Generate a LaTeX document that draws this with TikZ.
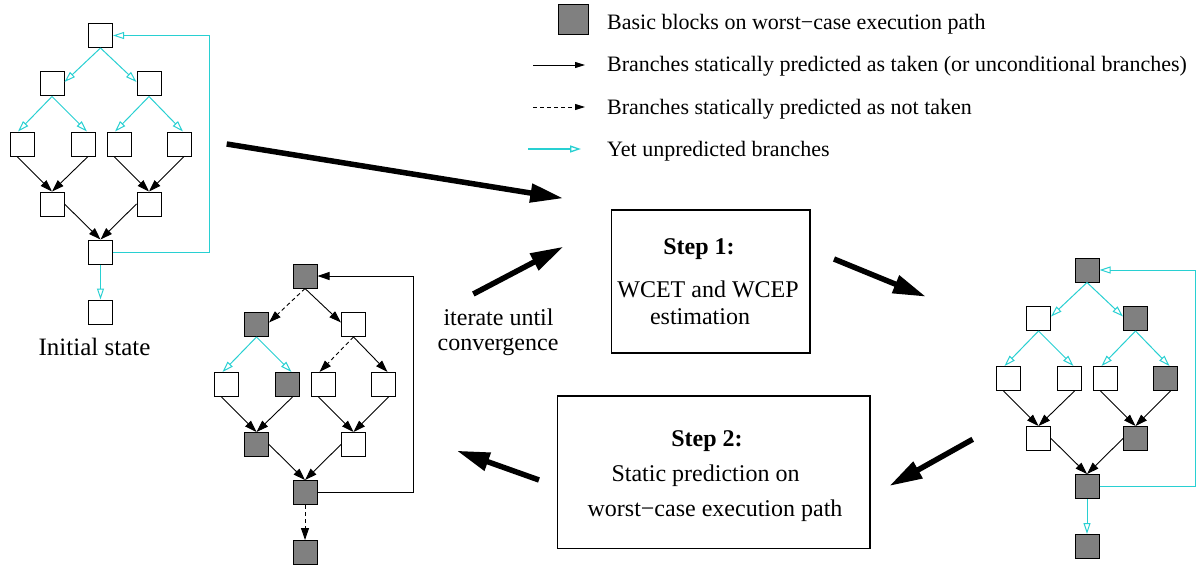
\documentclass[tikz,border=0pt]{standalone}
\usepackage{fontspec}
\setmainfont{Liberation Serif}
\usetikzlibrary{arrows.meta}
\definecolor{wcyan}{RGB}{40,208,210}
\definecolor{wgray}{RGB}{128,128,128}
\tikzset{
  bb/.style={draw=black, line width=1pt, minimum width=24pt, minimum height=24pt, inner sep=0pt, fill=white},
  onpath/.style={fill=wgray},
  cy/.style={draw=wcyan, line width=1pt, -{Triangle[open, length=11pt, width=7pt]}},
  tk/.style={draw=black, line width=0.9pt, -{Triangle[length=12pt, width=8pt]}},
  nt/.style={tk, dash pattern=on 4pt off 3pt},
  big/.style={draw=black, line width=5.5pt, -{Triangle[length=33pt, width=18pt]}},
  boxtxt/.style={font=\fontsize{24}{28}\selectfont, anchor=base, inner sep=0pt},
  legtxt/.style={font=\fontsize{22}{26}\selectfont, anchor=base west, inner sep=0pt},
  stepbox/.style={draw=black, line width=1.2pt, inner sep=0pt},
  n1/.style={}, n2L/.style={}, n2R/.style={}, n3a/.style={}, n3b/.style={},
  n3c/.style={}, n3d/.style={}, n4L/.style={}, n4R/.style={}, n5/.style={}, n6/.style={},
  e1L/.style={cy}, e1R/.style={cy}, e2La/.style={cy}, e2Lb/.style={cy},
  e2Ra/.style={cy}, e2Rb/.style={cy}, e3/.style={tk}, e4/.style={tk},
  e5/.style={cy}, efb/.style={cy}
}
\newcommand\cfggraph[1]{%
  \node[bb,n1] (#1-1) at (100.5,35.5) {};
  \node[bb,n2L] (#1-2L) at (52,84) {};
  \node[bb,n2R] (#1-2R) at (149,84) {};
  \node[bb,n3a] (#1-3a) at (22,144) {};
  \node[bb,n3b] (#1-3b) at (83,144) {};
  \node[bb,n3c] (#1-3c) at (119,144) {};
  \node[bb,n3d] (#1-3d) at (179,144) {};
  \node[bb,n4L] (#1-4L) at (52,204) {};
  \node[bb,n4R] (#1-4R) at (149,204) {};
  \node[bb,n5] (#1-5) at (100.5,252) {};
  \node[bb,n6] (#1-6) at (100.5,312) {};
  \coordinate (#1-fb) at (209,35.5);
  \draw[e1L] (#1-1.south) -- ([yshift=2pt]#1-2L.east);
  \draw[e1R] (#1-1.south) -- ([yshift=2pt]#1-2R.west);
  \draw[e2La] (#1-2L.south) -- ([xshift=-4pt]#1-3a.north);
  \draw[e2Lb] (#1-2L.south) -- ([xshift=4pt]#1-3b.north);
  \draw[e2Ra] (#1-2R.south) -- ([xshift=-4pt]#1-3c.north);
  \draw[e2Rb] (#1-2R.south) -- ([xshift=4pt]#1-3d.north);
  \draw[e3] ([xshift=-5pt]#1-3a.south) -- (#1-4L.north);
  \draw[e3] ([xshift=5pt]#1-3b.south) -- (#1-4L.north);
  \draw[e3] ([xshift=-5pt]#1-3c.south) -- (#1-4R.north);
  \draw[e3] ([xshift=5pt]#1-3d.south) -- (#1-4R.north);
  \draw[e4] (#1-4L.east) -- (#1-5.north);
  \draw[e4] (#1-4R.west) -- (#1-5.north);
  \draw[e5] (#1-5.south) -- (#1-6.north);
  \draw[efb] (#1-5.east) -| (#1-fb) -- (#1-1.east);
}
\begin{document}
\begin{tikzpicture}[x=1pt,y=-1pt]
\fill[white] (0,0) rectangle (1198,567);
\useasboundingbox (0,0) rectangle (1198,567);

% initial graph
\begin{scope}
  \cfggraph{ga}
\end{scope}
\node[font=\fontsize{25}{30}\selectfont, anchor=base, inner sep=0pt] (init) at (94.5,355) {Initial state};

% graph after step 2
\begin{scope}[shift={(204.5,240.5)},
  n1/.style={onpath}, n2L/.style={onpath}, n3b/.style={onpath}, n4L/.style={onpath},
  n5/.style={onpath}, n6/.style={onpath},
  e1L/.style={nt}, e1R/.style={tk}, e2Ra/.style={nt}, e2Rb/.style={tk},
  e5/.style={nt}, efb/.style={tk}]
  \cfggraph{gb}
\end{scope}

% graph after step 1
\begin{scope}[shift={(986.5,234.5)},
  n1/.style={onpath}, n2R/.style={onpath}, n3d/.style={onpath}, n4R/.style={onpath},
  n5/.style={onpath}, n6/.style={onpath}]
  \cfggraph{gc}
\end{scope}

% step boxes
\node[stepbox, minimum width=198.5pt, minimum height=143pt] (step1) at (710.75,281.5) {};
\node[boxtxt, font=\fontsize{24}{28}\selectfont\bfseries] (s1a) at (699,254) {Step 1:};
\node[boxtxt] (s1b) at (708,297) {WCET and WCEP};
\node[boxtxt] (s1c) at (700,324) {estimation};

\node[stepbox, minimum width=312.7pt, minimum height=152.3pt] (step2) at (713.65,472.15) {};
\node[boxtxt, font=\fontsize{24}{28}\selectfont\bfseries] (s2a) at (707,446.5) {Step 2:};
\node[boxtxt] (s2b) at (705.5,481.5) {Static prediction on};
\node[boxtxt] (s2c) at (715,516.5) {worst−case execution path};

\node[boxtxt] (it1) at (498.5,325.5) {iterate until};
\node[boxtxt] (it2) at (498,350.5) {convergence};

% big arrows
\coordinate (b1s) at (226.7,144);  \coordinate (b1e) at (563.3,198.3);
\coordinate (b2s) at (473.3,294);  \coordinate (b2e) at (563.3,246.7);
\coordinate (b3s) at (834,259);    \coordinate (b3e) at (926,296.7);
\coordinate (b4s) at (972.7,439.3);\coordinate (b4e) at (889.3,486);
\coordinate (b5s) at (539,480);    \coordinate (b5e) at (456.7,450.7);
\draw[big] (b1s) -- (b1e);
\draw[big] (b2s) -- (b2e);
\draw[big] (b3s) -- (b3e);
\draw[big] (b4s) -- (b4e);
\draw[big] (b5s) -- (b5e);

% legend
\node[bb, onpath, minimum width=30pt, minimum height=30pt] (lsq) at (573,20) {};
\node[legtxt] (l1) at (607,30) {Basic blocks on worst−case execution path};
\coordinate (l2s) at (533,65); \coordinate (l2e) at (585,65);
\draw[draw=black, line width=0.9pt, -{Triangle[length=10pt, width=6pt]}] (l2s) -- (l2e);
\node[legtxt] (l2) at (607,72) {Branches statically predicted as taken (or unconditional branches)};
\coordinate (l3s) at (533,107); \coordinate (l3e) at (585,107);
\draw[draw=black, line width=0.9pt, dash pattern=on 4pt off 3pt, -{Triangle[length=10pt, width=6pt]}] (l3s) -- (l3e);
\node[legtxt] (l3) at (607,114) {Branches statically predicted as not taken};
\coordinate (l4s) at (528,149); \coordinate (l4e) at (581,149);
\draw[draw=wcyan, line width=1.3pt, -{Triangle[open, length=11pt, width=7pt]}] (l4s) -- (l4e);
\node[legtxt] (l4) at (607,156) {Yet unpredicted branches};
\end{tikzpicture}
\end{document}
